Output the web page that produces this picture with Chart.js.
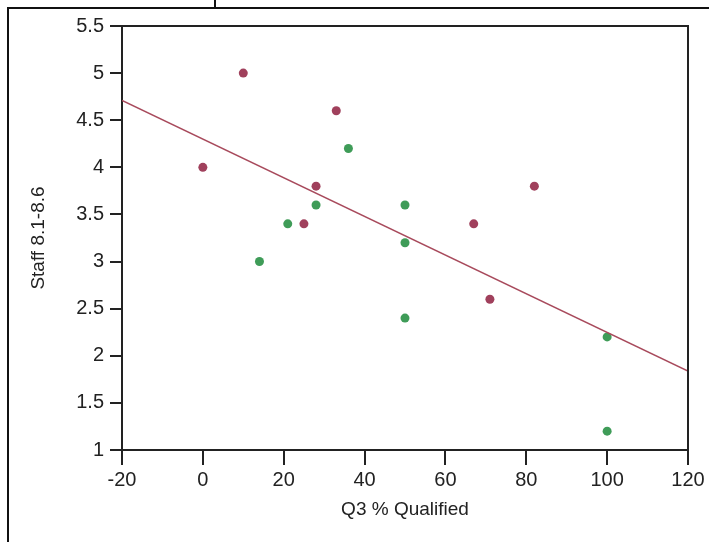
<!DOCTYPE html>
<html>
<head>
<meta charset="utf-8">
<script src="https://cdn.jsdelivr.net/npm/chart.js@4"></script>
<style>
  body { margin: 0; background: #fff; }
  #wrap { position: relative; width: 709px; height: 542px; }
  #frame { position: absolute; left: 7px; top: 7px; right: 0; bottom: 0; border-left: 2px solid #111; border-top: 2px solid #111; pointer-events: none; }
  #notch { position: absolute; left: 214px; top: 0; width: 2px; height: 8px; background: #111; }
</style>
</head>
<body>
<div id="wrap">
  <canvas id="chart" width="709" height="542"></canvas>
  <div id="frame"></div>
  <div id="notch"></div>
</div>
<script>
// data
const redX = [0, 10, 33, 28, 25, 67, 82, 71];
const redY = [4.0, 5.0, 4.6, 3.8, 3.4, 3.4, 3.8, 2.6];
const greenX = [36, 50, 50, 50, 28, 21, 14, 100, 100];
const greenY = [4.2, 3.6, 3.2, 2.4, 3.6, 3.4, 3.0, 2.2, 1.2];
const xRange = [-20, 120];
const yRange = [1, 5.5];
const xTitle = "Q3 % Qualified";
const yTitle = "Staff 8.1-8.6";

// least squares fit over all the points
const allX = redX.concat(greenX);
const allY = redY.concat(greenY);
var n = allX.length;
var mx = allX.reduce((a, b) => a + b, 0) / n;
var my = allY.reduce((a, b) => a + b, 0) / n;
var sxy = 0, sxx = 0;
for (var i = 0; i < n; i++) {
  sxy += (allX[i] - mx) * (allY[i] - my);
  sxx += (allX[i] - mx) * (allX[i] - mx);
}
var slope = sxy / sxx;
var fitLine = xRange.map(x => ({ x: x, y: my + slope * (x - mx) }));

const boxPlugin = {
  id: "box",
  afterDatasetsDraw(chart) {
    const a = chart.chartArea;
    const ctx = chart.ctx;
    ctx.save();
    ctx.strokeStyle = "#222";
    ctx.lineWidth = 2;
    ctx.beginPath();
    ctx.moveTo(a.left, a.top);
    ctx.lineTo(a.right, a.top);
    ctx.lineTo(a.right, a.bottom);
    ctx.stroke();
    ctx.restore();
  }
};

const tickFont = { family: "'Liberation Sans', Arial, sans-serif", size: 20 };
const titleFont = { family: "'Liberation Sans', Arial, sans-serif", size: 19 };

new Chart(document.getElementById("chart"), {
  type: "scatter",
  plugins: [boxPlugin],
  data: {
    datasets: [
      {
        type: "line",
        data: fitLine,
        borderColor: "#a84a5c",
        borderWidth: 1.6,
        pointRadius: 0,
        fill: false
      },
      {
        data: redX.map((x, i) => ({ x: x, y: redY[i] })),
        backgroundColor: "#a0405c",
        borderWidth: 0,
        pointRadius: 4.5
      },
      {
        data: greenX.map((x, i) => ({ x: x, y: greenY[i] })),
        backgroundColor: "#3f9c58",
        borderWidth: 0,
        pointRadius: 4.5
      }
    ]
  },
  options: {
    responsive: false,
    animation: false,
    layout: { padding: { left: 23, top: 26, right: 21, bottom: 17 } },
    plugins: { legend: { display: false }, tooltip: { enabled: false } },
    scales: {
      x: {
        type: "linear",
        min: xRange[0],
        max: xRange[1],
        afterFit: (s) => { s.height = 75; },
        ticks: { stepSize: 20, color: "#222", font: tickFont, padding: 3, maxRotation: 0 },
        grid: { drawOnChartArea: false, drawTicks: true, tickLength: 15, color: "#222", lineWidth: 2 },
        border: { display: true, color: "#222", width: 2 },
        title: { display: true, text: xTitle, color: "#222", font: titleFont }
      },
      y: {
        type: "linear",
        min: yRange[0],
        max: yRange[1],
        afterFit: (s) => { s.width = 99; },
        ticks: { stepSize: 0.5, color: "#222", font: tickFont, padding: 6, callback: (v) => String(v) },
        grid: { drawOnChartArea: false, drawTicks: true, tickLength: 12, color: "#222", lineWidth: 2 },
        border: { display: true, color: "#222", width: 2 },
        title: { display: true, text: yTitle, color: "#222", font: titleFont }
      }
    }
  }
});
</script>
</body>
</html>
